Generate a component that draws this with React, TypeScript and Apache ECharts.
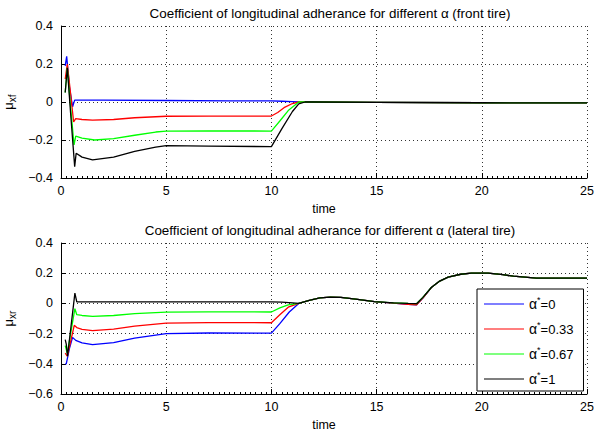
import React, { useEffect, useRef } from "react";
import * as echarts from "echarts";

const seriesNames = ["α*=0", "α*=0.33", "α*=0.67", "α*=1"];
const seriesColors = ["#0000ff", "#ff0000", "#00ff00", "#000000"];

// Front tire
const tBlueF = [0.2, 0.27, 0.4, 0.55, 0.65, 1, 2, 5, 8, 10, 10.5, 11, 11.3, 12, 15, 20, 25];
const vBlueF = [0.19, 0.24, 0.08, -0.025, 0.01, 0.01, 0.01, 0.008, 0.006, 0.006, 0.004, 0.002, 0, 0, -0.002, -0.004, -0.005];
const tRedF = [0.2, 0.3, 0.45, 0.6, 0.7, 1, 1.5, 2.5, 3.5, 5, 7, 10, 10.3, 10.6, 11, 11.3, 12, 15, 20, 25];
const vRedF = [0.12, 0.2, 0.05, -0.105, -0.088, -0.092, -0.095, -0.092, -0.083, -0.075, -0.074, -0.074, -0.055, -0.03, -0.008, 0, 0, -0.002, -0.004, -0.005];
const tGreenF = [0.2, 0.3, 0.45, 0.62, 0.7, 1, 1.6, 2.5, 3.5, 4.5, 5, 7, 10, 10.4, 10.8, 11.3, 12, 15, 20, 25];
const vGreenF = [0.05, 0.18, -0.02, -0.226, -0.18, -0.19, -0.2, -0.193, -0.175, -0.158, -0.153, -0.152, -0.153, -0.1, -0.045, 0, 0, -0.002, -0.004, -0.005];
const tBlackF = [0.2, 0.3, 0.45, 0.65, 0.72, 1, 1.5, 2.5, 3.5, 4.5, 5, 7, 10, 10.5, 11, 11.3, 11.6, 12, 15, 20, 25];
const vBlackF = [0.05, 0.18, -0.05, -0.34, -0.27, -0.29, -0.305, -0.29, -0.26, -0.237, -0.23, -0.232, -0.235, -0.14, -0.05, -0.01, 0, 0, -0.002, -0.004, -0.005];

// Lateral (rear) tire
const tTailR = [11.8, 12.3, 12.8, 13.3, 14, 14.9, 15.8, 16.5, 16.9, 17.2, 17.6, 18, 18.4, 19, 19.5, 20.3, 21, 21.5, 22.6, 23.5, 25];
const vTailR = [0.02, 0.036, 0.042, 0.04, 0.028, 0.012, 0.004, 0, -0.002, 0.04, 0.105, 0.148, 0.174, 0.193, 0.2, 0.2, 0.19, 0.18, 0.168, 0.167, 0.167];
const vTailRDip = [0.02, 0.036, 0.042, 0.04, 0.028, 0.012, 0.002, -0.006, -0.009, 0.035, 0.105, 0.148, 0.174, 0.193, 0.2, 0.2, 0.19, 0.18, 0.168, 0.167, 0.167];
const tBlueR = [0.2, 0.25, 0.4, 0.55, 0.7, 1, 1.5, 2.5, 3.5, 5, 7, 10, 10.4, 10.85, 11.3];
const vBlueR = [-0.4, -0.4, -0.3, -0.225, -0.245, -0.262, -0.273, -0.26, -0.23, -0.2, -0.196, -0.197, -0.134, -0.057, 0];
const tRedR = [0.2, 0.3, 0.63, 0.75, 1, 1.5, 2.5, 3.5, 5, 7, 10, 10.4, 10.8, 11.3];
const vRedR = [-0.33, -0.35, -0.145, -0.16, -0.172, -0.18, -0.17, -0.15, -0.13, -0.127, -0.128, -0.075, -0.025, 0];
const tGreenR = [0.2, 0.3, 0.66, 0.75, 1, 1.5, 2.5, 3.5, 5, 7, 10, 10.4, 10.8, 11.3];
const vGreenR = [-0.28, -0.33, -0.035, -0.075, -0.08, -0.086, -0.08, -0.068, -0.058, -0.056, -0.057, -0.03, -0.01, 0];
const tBlackR = [0.2, 0.25, 0.31, 0.66, 0.75, 1, 5, 10, 10.5, 11, 11.3];
const vBlackR = [-0.24, -0.27, -0.35, 0.068, 0.01, 0.01, 0.01, 0.01, 0.008, 0.004, 0];

const zip = (t: number[], v: number[]) => t.map((x, i) => [x, v[i]]);

const FONT = "Liberation Sans, Arial, Helvetica, sans-serif";

export default function App() {
  const ref = useRef<HTMLDivElement>(null);
  useEffect(() => {
    if (!ref.current) return;
    const chart = echarts.init(ref.current, undefined, { renderer: "svg" });

    const frontData = [zip(tBlueF, vBlueF), zip(tRedF, vRedF), zip(tGreenF, vGreenF), zip(tBlackF, vBlackF)];
    const rearData = [
      zip(tBlueR.concat(tTailR), vBlueR.concat(vTailRDip)),
      zip(tRedR.concat(tTailR), vRedR.concat(vTailRDip)),
      zip(tGreenR.concat(tTailR), vGreenR.concat(vTailR)),
      zip(tBlackR.concat(tTailR), vBlackR.concat(vTailR)),
    ];

    const fmt = (v: number) => {
      const s = Math.abs(v) < 1e-9 ? "0" : String(Math.round(v * 10) / 10);
      return s.replace("-", "\u2212");
    };

    const xAxisBase = (gi: number) => ({
      type: "value",
      gridIndex: gi,
      min: 0,
      max: 25,
      interval: 5,
      name: "time",
      nameLocation: "middle",
      nameGap: 24,
      nameTextStyle: { color: "#000", fontSize: 12.5, fontFamily: FONT },
      axisLine: { show: true, onZero: false, lineStyle: { color: "#000", width: 1 } },
      axisTick: { show: true, inside: true, length: 5, lineStyle: { color: "#000" } },
      minorTick: { show: true, splitNumber: 20, length: 2, lineStyle: { color: "#000" } },
      axisLabel: { color: "#000", fontSize: 12.5, fontFamily: FONT, margin: 6, formatter: (v: number) => String(v) },
      splitLine: { show: true, lineStyle: { color: "#333", type: [1, 3], width: 1 } },
    });

    const yAxisBase = (gi: number, min: number, sub: string) => ({
      type: "value",
      gridIndex: gi,
      min,
      max: 0.4,
      interval: 0.2,
      name: `{mu|μ}{sub|${sub}}`,
      nameLocation: "middle",
      nameGap: 37,
      nameRotate: 90,
      nameTextStyle: {
        color: "#000",
        fontFamily: FONT,
        rich: {
          mu: { fontSize: 13, fontFamily: FONT, color: "#000" },
          sub: { fontSize: 10, fontFamily: FONT, color: "#000", padding: [8, 0, 0, 0] },
        },
      },
      axisLine: { show: true, onZero: false, lineStyle: { color: "#000", width: 1 } },
      axisTick: { show: true, inside: true, length: 5, lineStyle: { color: "#000" } },
      axisLabel: { color: "#000", fontSize: 12.5, fontFamily: FONT, margin: 8, formatter: fmt },
      splitLine: { show: true, lineStyle: { color: "#333", type: [1, 3], width: 1 } },
    });

    const series: any[] = [];
    frontData.forEach((d, i) =>
      series.push({
        type: "line",
        name: seriesNames[i],
        xAxisIndex: 0,
        yAxisIndex: 0,
        data: d,
        symbol: "none",
        lineStyle: { color: seriesColors[i], width: 1.3 },
        itemStyle: { color: seriesColors[i] },
      })
    );
    rearData.forEach((d, i) =>
      series.push({
        type: "line",
        name: seriesNames[i],
        xAxisIndex: 1,
        yAxisIndex: 1,
        data: d,
        symbol: "none",
        lineStyle: { color: seriesColors[i], width: 1.3 },
        itemStyle: { color: seriesColors[i] },
      })
    );

    chart.setOption({
      animation: false,
      backgroundColor: "#fff",
      title: [
        {
          text: "Coefficient of longitudinal adherance for different α (front tire)",
          left: 325,
          textAlign: "center",
          top: 2,
          textStyle: { fontSize: 13.4, fontWeight: "normal", color: "#000", fontFamily: FONT },
        },
        {
          text: "Coefficient of longitudinal adherance for different α (lateral tire)",
          left: 325,
          textAlign: "center",
          top: 219,
          textStyle: { fontSize: 13.4, fontWeight: "normal", color: "#000", fontFamily: FONT },
        },
      ],
      grid: [
        { left: 61, right: 8, top: 26, height: 152, outerBoundsMode: "none", containLabel: false },
        { left: 61, right: 8, top: 243, height: 151, outerBoundsMode: "none", containLabel: false },
      ],
      xAxis: [xAxisBase(0), xAxisBase(1)],
      yAxis: [yAxisBase(0, -0.4, "xf"), yAxisBase(1, -0.6, "xr")],
      legend: {
        data: seriesNames,
        orient: "vertical",
        left: 477,
        top: 289,
        width: 110,
        backgroundColor: "#fff",
        borderColor: "#000",
        borderWidth: 1,
        borderRadius: 0,
        padding: [6, 10, 5, 7],
        itemWidth: 40,
        itemHeight: 14,
        itemGap: 9,
        icon: "path://M0,7 L40,7 L40,8 L0,8 Z",
        formatter: (name: string) => `{a|α}{s|*}{b|=${name.split("=")[1]}}`,
        textStyle: {
          color: "#000",
          fontFamily: FONT,
          rich: {
            a: { fontSize: 14, fontFamily: FONT, color: "#000" },
            s: { fontSize: 9, fontFamily: FONT, color: "#000", padding: [0, 0, 9, 0] },
            b: { fontSize: 13, fontFamily: FONT, color: "#000" },
          },
        },
      },
      series,
    });

    return () => chart.dispose();
  }, []);
  return <div ref={ref} style={{ position: "fixed", left: 0, top: 0, width: 595, height: 433 }} />;
}
